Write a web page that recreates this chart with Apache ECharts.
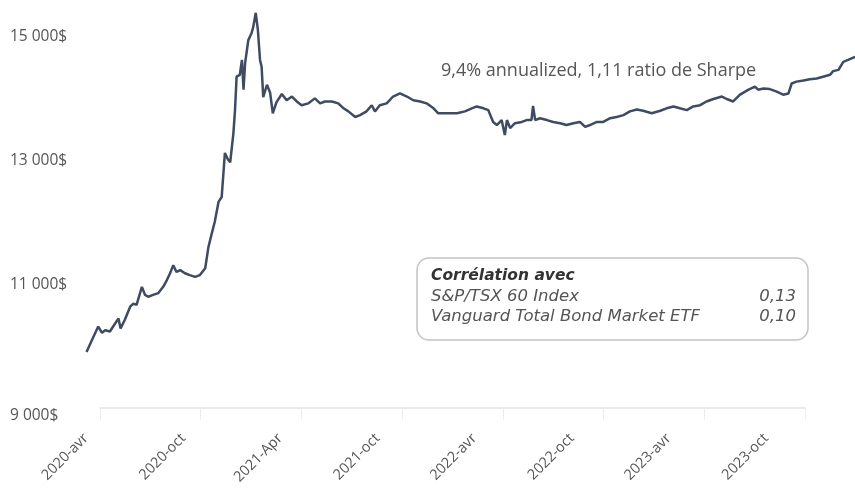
<!DOCTYPE html>
<html>
<head>
<meta charset="utf-8">
<script src="https://cdn.jsdelivr.net/npm/echarts@6/dist/echarts.min.js"></script>
<style>
    html, body { margin: 0; padding: 0; background: #fff; }
    #chart { width: 855px; height: 491px; }
</style>
</head>
<body>
<div id="chart"></div>
<script type="text/javascript">
    // valeur du portefeuille
    const dates = [
        '2020-04-02','2020-04-12','2020-04-24','2020-05-01','2020-05-07','2020-05-16','2020-05-22','2020-06-01','2020-06-05','2020-06-13',
        '2020-06-23','2020-06-29','2020-07-05','2020-07-15','2020-07-21','2020-07-27','2020-08-05','2020-08-15','2020-08-24','2020-08-31',
        '2020-09-06','2020-09-12','2020-09-18','2020-09-25','2020-10-04','2020-10-13','2020-10-23','2020-11-01','2020-11-11','2020-11-17',
        '2020-11-23','2020-11-29','2020-12-06','2020-12-12','2020-12-18','2020-12-24','2020-12-28','2021-01-03','2021-01-06','2021-01-09',
        '2021-01-15','2021-01-19','2021-01-22','2021-01-25','2021-01-31','2021-02-06','2021-02-09','2021-02-14','2021-02-18','2021-02-22',
        '2021-02-25','2021-02-28','2021-03-07','2021-03-13','2021-03-18','2021-03-25','2021-04-04','2021-04-13','2021-04-23','2021-05-02',
        '2021-05-11','2021-05-24','2021-06-05','2021-06-15','2021-06-24','2021-07-07','2021-07-19','2021-07-29','2021-08-07','2021-08-20',
        '2021-08-29','2021-09-10','2021-09-20','2021-09-26','2021-10-05','2021-10-18','2021-10-30','2021-11-12','2021-11-25','2021-12-07',
        '2021-12-20','2022-01-01','2022-01-14','2022-01-23','2022-02-08','2022-02-27','2022-03-14','2022-03-27','2022-04-05','2022-04-18',
        '2022-04-27','2022-05-06','2022-05-13','2022-05-22','2022-05-28','2022-06-01','2022-06-07','2022-06-16','2022-06-29','2022-07-08',
        '2022-07-17','2022-07-20','2022-07-24','2022-08-02','2022-08-15','2022-08-27','2022-09-09','2022-09-21','2022-10-04','2022-10-16',
        '2022-10-26','2022-11-04','2022-11-17','2022-11-29','2022-12-12','2022-12-24','2023-01-06','2023-01-18','2023-01-31','2023-02-12',
        '2023-02-28','2023-03-16','2023-03-28','2023-04-10','2023-04-22','2023-05-05','2023-05-17','2023-05-30','2023-06-11','2023-06-24',
        '2023-07-10','2023-07-19','2023-07-31','2023-08-13','2023-08-29','2023-09-10','2023-09-16','2023-09-26','2023-10-08','2023-10-21',
        '2023-11-02','2023-11-12','2023-11-18','2023-11-27','2023-12-10','2023-12-22','2024-01-04','2024-01-16','2024-01-29','2024-02-04',
        '2024-02-14','2024-02-23','2024-03-03','2024-03-16'
    ];
    const values = [
        9920,10110,10330,10230,10270,10250,10330,10460,10300,10440,
        10650,10700,10680,10970,10840,10810,10840,10870,10970,11080,
        11190,11320,11210,11240,11190,11160,11130,11160,11270,11610,
        11820,12020,12340,12420,13130,13020,12980,13450,13820,14360,
        14390,14630,14150,14580,14950,15060,15150,15390,15110,14630,
        14520,14030,14230,14100,13770,13950,14080,13980,14040,13960,
        13900,13930,14010,13930,13960,13960,13930,13850,13800,13710,
        13740,13800,13900,13800,13900,13930,14040,14090,14040,13980,
        13960,13930,13850,13770,13770,13770,13800,13850,13880,13850,
        13820,13630,13580,13660,13420,13660,13530,13610,13630,13660,
        13660,13890,13660,13690,13660,13630,13610,13580,13610,13630,
        13550,13580,13630,13630,13690,13710,13740,13800,13830,13810,
        13770,13810,13850,13880,13850,13820,13880,13900,13960,14000,
        14040,14000,13960,14070,14150,14200,14150,14170,14160,14120,
        14070,14090,14250,14280,14300,14320,14330,14360,14390,14450,
        14470,14600,14630,14680
    ];

    // axe des x : étiquettes tous les 6 mois
    const tickDates = ['2020-04-01','2020-10-01','2021-04-01','2021-10-01','2022-04-01','2022-10-01','2023-04-01','2023-10-01'];
    const tickLabels = ['2020-avr','2020-oct','2021-Apr','2021-oct','2022-avr','2022-oct','2023-avr','2023-oct'];
    const yTicks = [9000, 11000, 13000, 15000];

    const subtitle = '9,4% annualized, 1,11 ratio de Sharpe';
    const corrTitle = 'Corrélation avec';
    const corrNames = ['S&P/TSX 60 Index', 'Vanguard Total Bond Market ETF'];
    const corrValues = ['0,13', '0,10'];

    const FONT = '"Open Sans", sans-serif';
    const BOX_FONT = '"DejaVu Sans", sans-serif';
    const toTime = d => Date.UTC(+d.slice(0, 4), +d.slice(5, 7) - 1, +d.slice(8, 10));
    const tickTimes = tickDates.map(toTime);

    function fmtMoney(v) {
        return String(v).replace(/\B(?=(\d{3})+(?!\d))/g, ' ') + '$';
    }

    let chart = echarts.init(document.getElementById('chart'));

    // encadré des corrélations
    let boxItems = [
        {
            type: 'rect', z: 10,
            shape: { x: 417, y: 258, width: 391, height: 82, r: 12 },
            style: { fill: '#fff', stroke: '#c4c4c4', lineWidth: 1.5 }
        },
        {
            type: 'text', z: 11, x: 431, y: 276,
            style: { text: corrTitle, font: 'italic bold 15.5px ' + BOX_FONT, fill: '#333', verticalAlign: 'middle' }
        }
    ];
    corrNames.forEach((name, i) => {
        boxItems.push({
            type: 'text', z: 11, x: 431, y: 297 + i * 20,
            style: { text: name, font: 'italic 16.5px ' + BOX_FONT, fill: '#555', verticalAlign: 'middle' }
        });
        boxItems.push({
            type: 'text', z: 11, x: 796, y: 297 + i * 20,
            style: { text: corrValues[i], font: 'italic 16.5px ' + BOX_FONT, fill: '#555', align: 'right', verticalAlign: 'middle' }
        });
    });

    let option = {
        animation: false,
        textStyle: { fontFamily: FONT },
        grid: [
            { left: 86, right: 0, top: 6, bottom: 82 },
            { left: 100, right: 50, top: 6, bottom: 83 }
        ],
        xAxis: [
            {
                type: 'value',
                gridIndex: 0,
                min: toTime('2020-04-01'),
                max: toTime('2024-03-16'),
                axisLine: { show: false },
                axisTick: { show: false },
                splitLine: { show: false },
                axisLabel: {
                    customValues: tickTimes,
                    rotate: 45,
                    margin: 27,
                    color: '#555',
                    fontSize: 14.5,
                    fontFamily: FONT,
                    formatter: function (v) {
                        let i = tickTimes.indexOf(v);
                        return i >= 0 ? tickLabels[i] : '';
                    }
                }
            },
            {
                type: 'value',
                gridIndex: 1,
                min: 0,
                max: 7,
                interval: 1,
                axisLine: { show: true, lineStyle: { color: '#e3e3e3', width: 1.5 } },
                axisTick: { show: true, length: 12, lineStyle: { color: '#ececec' } },
                axisLabel: { show: false },
                splitLine: { show: false }
            }
        ],
        yAxis: [
            {
                type: 'value',
                gridIndex: 0,
                min: 9000,
                max: 15500,
                interval: 2000,
                axisLine: { show: false },
                axisTick: { show: false },
                splitLine: { show: false },
                axisLabel: {
                    showMaxLabel: false,
                    align: 'left',
                    margin: 76,
                    color: '#555',
                    fontSize: 15.5,
                    fontFamily: FONT,
                    formatter: function (v) {
                        if (yTicks.indexOf(v) < 0) return '';
                        return v === 9000 ? '{low|' + fmtMoney(v) + '}' : fmtMoney(v);
                    },
                    rich: {
                        low: { padding: [14, 0, 0, 0], color: '#555', fontSize: 15.5, fontFamily: FONT }
                    }
                }
            },
            {
                type: 'value',
                gridIndex: 1,
                show: false
            }
        ],
        title: {
            text: subtitle,
            left: 441,
            top: 62,
            padding: 0,
            textStyle: { color: '#555', fontSize: 18, fontWeight: 'normal', fontFamily: FONT }
        },
        graphic: boxItems,
        series: [
            {
                type: 'line',
                xAxisIndex: 0,
                yAxisIndex: 0,
                data: dates.map((d, i) => [toTime(d), values[i]]),
                showSymbol: false,
                lineStyle: { color: '#3e4b63', width: 2.5 },
                z: 5
            }
        ]
    };

    chart.setOption(option);
</script>
</body>
</html>
